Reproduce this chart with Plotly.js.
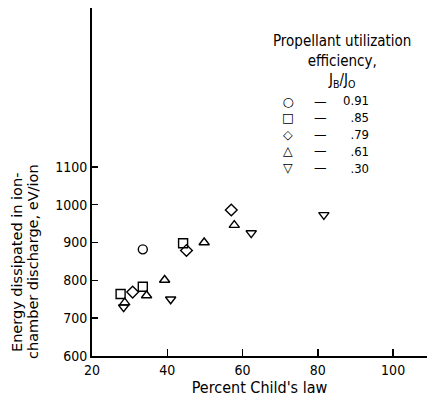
<!DOCTYPE html>
<html><head><meta charset="utf-8">
<script src="https://cdn.plot.ly/plotly-3.0.1.min.js"></script>
<style>body{margin:0;background:#fff}#c{width:427px;height:400px}</style>
</head><body><div id="c"></div>
<script>
const seriesNames = ["0.91", ".85", ".79", ".61", ".30"];
const symbols = ["circle-open", "square-open", "diamond-open", "triangle-up-open", "triangle-down-open"];
const legendGlyphs = ["○", "□", "◇", "△", "▽"];
const x091 = [33.5];
const y091 = [882];
const x085 = [27.6, 33.5, 44.2];
const y085 = [764, 783, 898];
const x079 = [30.8, 45.1, 57.0];
const y079 = [769, 879, 986];
const x061 = [28.7, 34.5, 39.3, 49.8, 57.8];
const y061 = [741, 760, 801, 900, 946];
const x030 = [28.4, 40.9, 62.3, 81.6];
const y030 = [729, 750, 925, 973];
const xs = [x091, x085, x079, x061, x030];
const ys = [y091, y085, y079, y061, y030];
const xTicks = [20, 40, 60, 80, 100];
const yTicks = [600, 700, 800, 900, 1000, 1100];

const NARROW = "'Liberation Sans Narrow', 'DejaVu Sans Condensed', sans-serif";
const WIDE = "'DejaVu Sans', sans-serif";

const traces = xs.map((x, i) => ({
  type: "scatter", mode: "markers", x: x, y: ys[i], name: seriesNames[i], showlegend: false,
  marker: {symbol: symbols[i], size: 9, color: "#000", line: {color: "#000", width: 1.4}}
}));

// pixel helpers for legend placement (plot area: x 92..427, y 8..356)
const px = p => (p - 92) / 335;
const py = p => (356 - p) / 348;

const annotations = [
  {text: "Energy dissipated in ion-", x: px(17), y: py(263)},
  {text: "chamber discharge, eV/ion", x: px(33), y: py(262)}
].map(a => Object.assign(a, {xref: "paper", yref: "paper", xanchor: "center", yanchor: "middle",
  textangle: -90, showarrow: false, font: {family: WIDE, size: 14.5, color: "#000"}}));

annotations.push({text: "Propellant utilization<br>efficiency,<br>J<sub>B</sub>/J<sub>O</sub>",
  xref: "paper", yref: "paper", x: px(342), y: py(61), xanchor: "center", yanchor: "middle", align: "center",
  showarrow: false, font: {family: NARROW, size: 15, color: "#000"}});

const legendMid = 134;
annotations.push({text: legendGlyphs.join("<br>"), xref: "paper", yref: "paper", x: px(288), y: py(legendMid),
  xanchor: "center", yanchor: "middle", align: "center", showarrow: false, font: {family: WIDE, size: 12.6, color: "#000"}});
annotations.push({text: seriesNames.map(() => "—").join("<br>"), xref: "paper", yref: "paper", x: px(320), y: py(legendMid),
  xanchor: "center", yanchor: "middle", align: "center", showarrow: false, font: {family: WIDE, size: 12.6, color: "#000"}});
annotations.push({text: seriesNames.join("<br>"), xref: "paper", yref: "paper", x: px(371), y: py(legendMid),
  xanchor: "right", yanchor: "middle", align: "right", showarrow: false, font: {family: NARROW, size: 13, color: "#000"}});

const layout = {
  width: 427, height: 400,
  margin: {l: 92, r: 0, t: 8, b: 44},
  paper_bgcolor: "#fff", plot_bgcolor: "#fff",
  font: {family: NARROW, size: 14, color: "#000"},
  showlegend: false,
  xaxis: {
    range: [20, 109], tickvals: xTicks, ticktext: xTicks.map(String),
    showline: true, linecolor: "#000", linewidth: 2, ticks: "inside", ticklen: 7, tickwidth: 1.5, tickcolor: "#000",
    showgrid: false, zeroline: false, tickfont: {family: NARROW, size: 14},
    title: {text: "Percent Child's law", font: {family: NARROW, size: 16}, standoff: 2}
  },
  yaxis: {
    range: [600, 1520], tickvals: yTicks, ticktext: yTicks.map(String),
    showline: true, linecolor: "#000", linewidth: 2, ticks: "inside", ticklen: 6, tickwidth: 1.5, tickcolor: "#000",
    showgrid: false, zeroline: false, tickfont: {family: NARROW, size: 14}
  },
  annotations: annotations
};
Plotly.newPlot("c", traces, layout, {displayModeBar: false, staticPlot: true});
</script></body></html>
